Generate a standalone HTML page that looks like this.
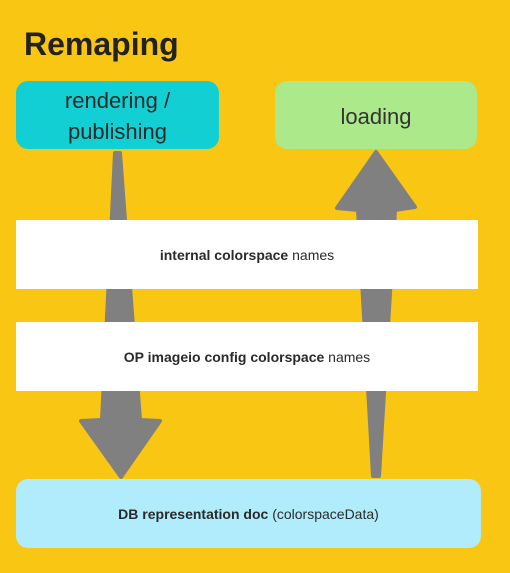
<!DOCTYPE html>
<html><head><style>
body{margin:0;width:510px;height:573px;background:#F9C613;position:relative;overflow:hidden;font-family:"Liberation Sans",sans-serif;}
.t{position:absolute;left:24px;top:26px;font-size:32px;font-weight:bold;color:#222;}
.b{position:absolute;display:flex;align-items:center;justify-content:center;text-align:center;color:#2a2a2a;box-sizing:border-box;}
</style></head><body>
<div class="t">Remaping</div>
<svg width="510" height="573" style="position:absolute;left:0;top:0">
<g fill="#808080" stroke="#808080" stroke-linejoin="round" stroke-width="4">
<polygon points="115,153 120,153 140,420 160,421 121,477 81,421 102,420"/>
<polygon points="376,152 415,207 395,210 379,476 373,476 358,210 337,208"/>
</g>
</svg>
<div class="b" style="left:16px;top:81px;width:203px;height:68px;padding-top:2px;background:#12CFD4;border-radius:12px;font-size:22px;line-height:31px;">rendering /<br>publishing</div>
<div class="b" style="left:275px;top:81px;width:202px;height:68px;padding-top:4px;background:#ABE98A;border-radius:12px;font-size:22px;color:#333;">loading</div>
<div class="b" style="left:16px;top:220px;width:462px;height:69px;background:#fff;font-size:14px;"><span><b>internal colorspace</b> names</span></div>
<div class="b" style="left:16px;top:322px;width:462px;height:69px;background:#fff;font-size:14px;"><span><b>OP imageio config colorspace</b> names</span></div>
<div class="b" style="left:16px;top:479px;width:465px;height:69px;background:#B0ECFC;border-radius:12px;font-size:14px;"><span><b>DB representation doc</b> (colorspaceData)</span></div>
</body></html>
